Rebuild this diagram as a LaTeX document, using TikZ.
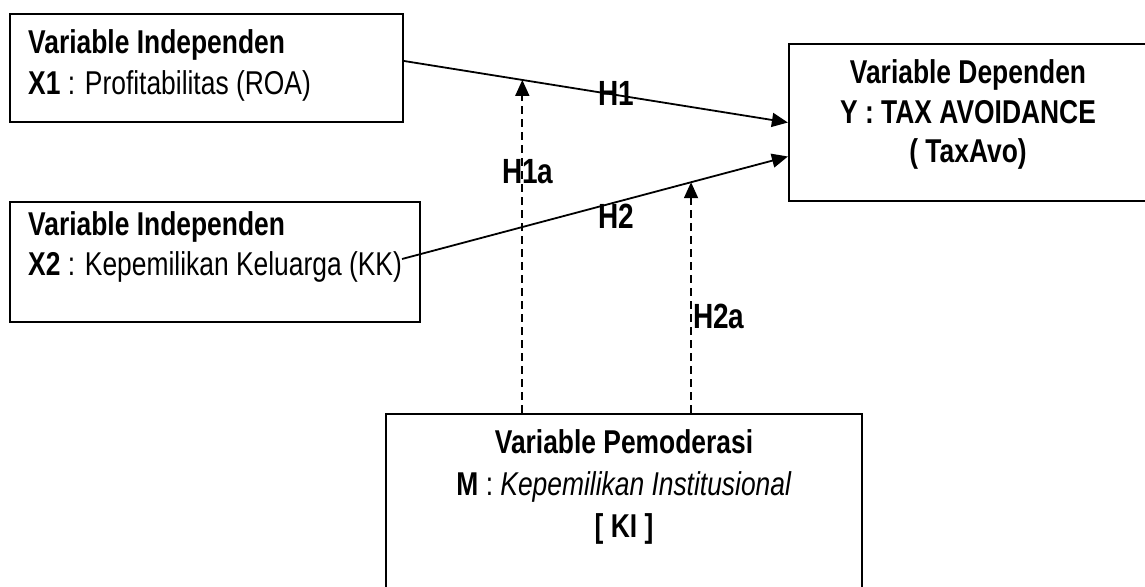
\documentclass[tikz,border=0pt]{standalone}
\usepackage{fontspec}
\setmainfont[FakeStretch=0.8]{Liberation Sans}
\usetikzlibrary{arrows.meta, calc}
\tikzset{
  box/.style={draw, line width=2.2pt, inner sep=0pt},
  txt/.style={inner sep=0pt, font=\fontsize{33}{40}\selectfont},
  hyp/.style={inner sep=0pt, font=\fontsize{35}{40}\selectfont\bfseries},
  link/.style={line width=1.8pt, -{Triangle[length=16pt, width=14pt]}},
  moder/.style={link, dash pattern=on 8pt off 5pt}
}

\begin{document}
\begin{tikzpicture}[x=1pt, y=-1pt]

            \useasboundingbox (0, 0) rectangle (1145, 586);

            % boxes
            \node[box, minimum width=393pt, minimum height=108pt] (x1) at (206.5, 68) {};
            \node[box, minimum width=410pt, minimum height=120pt] (x2) at (215, 262) {};
            \node[box, minimum width=358pt, minimum height=157pt] (y) at (968, 122.5) {};
            \node[box, minimum width=476pt, minimum height=186pt] (m) at (624, 507) {};

            \node[txt, anchor=base west] (x1a) at (28, 54) {\textbf{Variable Independen}};
            \node[txt, anchor=base west] (x1b) at (28, 94) {\textbf{X1} : Profitabilitas (ROA)};

            \node[txt, anchor=base west] (x2a) at (28, 235) {\textbf{Variable Independen}};
            \node[txt, anchor=base west] (x2b) at (28, 275) {\textbf{X2} : Kepemilikan Keluarga (KK)};

            \node[txt, anchor=base] (ya) at (968, 83) {\textbf{Variable Dependen}};
            \node[txt, anchor=base] (yb) at (968, 123) {\textbf{Y : TAX AVOIDANCE}};
            \node[txt, anchor=base] (yc) at (968, 162) {\textbf{( TaxAvo)}};

            \node[txt, anchor=base] (ma) at (624, 453) {\textbf{Variable Pemoderasi}};
            \node[txt, anchor=base] (mb) at (624, 495) {\textbf{M} : \textit{Kepemilikan Institusional}};
            \node[txt, anchor=base] (mc) at (624, 537) {\textbf{[ KI ]}};

            % hypotheses
            \coordinate (s1) at ($(x1.east) + (0, -7)$);
            \coordinate (s2) at (402, 259);
            \draw[link] (s1) -- (y.west) coordinate[pos=0.308] (p1);
            \draw[link] (s2) -- ($(y.west) + (0, 34)$) coordinate[pos=0.749] (p2);

            \draw[moder] (m.north -| p1) -- (p1);
            \draw[moder] (m.north -| p2) -- (p2);

            \node[hyp, anchor=base west] (h1) at (598, 105) {H1};
            \node[hyp, anchor=base west] (h1a) at (502, 183) {H1a};
            \node[hyp, anchor=base west] (h2) at (598, 228) {H2};
            \node[hyp, anchor=base west] (h2a) at (693, 328) {H2a};
        \end{tikzpicture}
\end{document}
